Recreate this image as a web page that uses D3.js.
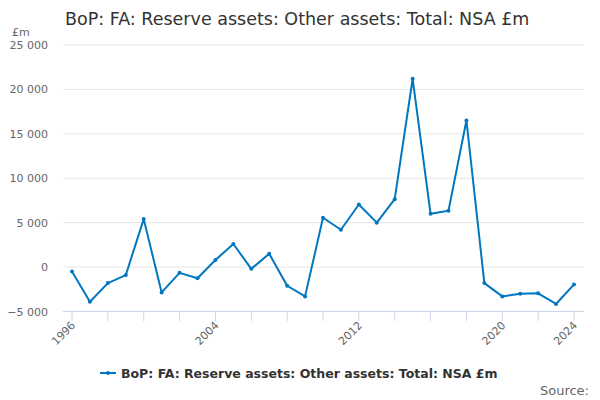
<!DOCTYPE html>
<html><head><meta charset="utf-8">
<script src="https://cdn.jsdelivr.net/npm/d3@7"></script>
<style>body{margin:0;background:#fff;font-family:"DejaVu Sans",sans-serif;}</style>
</head><body><svg id="c" width="600" height="400"></svg>
<script>
const years = d3.range(1996, 2025);
const values = [-500,-3900,-1800,-900,5400,-2850,-650,-1250,800,2600,-200,1500,-2100,-3300,5550,4200,7050,5000,7650,21200,6000,6350,16500,-1800,-3300,-3000,-2950,-4150,-1950];
const yTicks = [-5000,0,5000,10000,15000,20000,25000];
const xTickYears = d3.range(1996, 2025, 2);
const xLabelYears = [1996,2004,2012,2020,2024];
const title = "BoP: FA: Reserve assets: Other assets: Total: NSA £m";
const color = "#0077c0";

const svg = d3.select("#c");
const x = d3.scaleLinear().domain([1996,2024]).range([72,574]);
const y = d3.scaleLinear().domain([-5000,25000]).range([311.5,45]);
const fmt = v => d3.format(",")(v).replace(/,/g," ");

svg.append("text").attr("x",65).attr("y",25).attr("font-size",17.5).attr("fill","#333").text(title);
svg.append("text").attr("x",12).attr("y",36).attr("font-size",11).attr("fill","#666").text("£m");

const grid = svg.append("g");
yTicks.forEach(t=>{
  if(t!==-5000) grid.append("line").attr("x1",63).attr("x2",584).attr("y1",y(t)).attr("y2",y(t)).attr("stroke","#e6e6e6").attr("stroke-width",1);
  grid.append("text").attr("x",48).attr("y",y(t)+4).attr("text-anchor","end").attr("font-size",11).attr("fill","#666").text(fmt(t));
});
svg.append("line").attr("x1",63).attr("x2",584).attr("y1",311.5).attr("y2",311.5).attr("stroke","#ccd6eb");
xTickYears.forEach(t=>{
  svg.append("line").attr("x1",x(t)).attr("x2",x(t)).attr("y1",311.5).attr("y2",321).attr("stroke","#ccd6eb");
});
xLabelYears.forEach(t=>{
  svg.append("text").attr("transform",`translate(${x(t)+4},${326}) rotate(-45)`).attr("text-anchor","end").attr("font-size",11).attr("fill","#666").text(t);
});

const line = d3.line().x((d,i)=>x(years[i])).y(d=>y(d));
svg.append("path").datum(values).attr("d",line).attr("fill","none").attr("stroke",color).attr("stroke-width",2).attr("stroke-linejoin","round");
svg.selectAll("circle.p").data(values).join("circle").attr("cx",(d,i)=>x(years[i])).attr("cy",d=>y(d)).attr("r",2).attr("fill",color);

const lg = svg.append("g");
lg.append("line").attr("x1",100).attr("x2",116).attr("y1",373).attr("y2",373).attr("stroke",color).attr("stroke-width",2);
lg.append("circle").attr("cx",108).attr("cy",373).attr("r",2).attr("fill",color);
lg.append("text").attr("x",121).attr("y",378).attr("font-size",12.5).attr("font-weight","bold").attr("fill","#333").text(title);
svg.append("text").attr("x",589).attr("y",395).attr("text-anchor","end").attr("font-size",13).attr("fill","#666").text("Source:");
</script></body></html>
